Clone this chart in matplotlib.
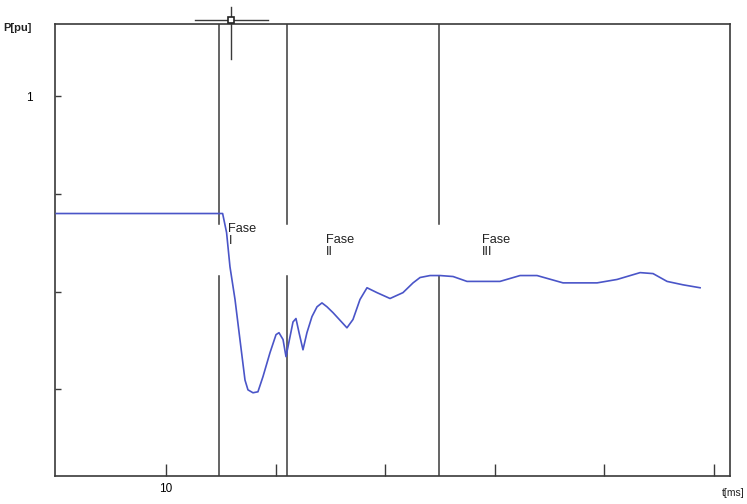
import matplotlib
matplotlib.use("Agg")
import matplotlib.pyplot as plt

# ---- data ----
t_ms = [0.0, 15.17, 15.53, 15.84, 16.30, 16.75, 17.21, 17.48, 17.94, 18.39, 18.85,
        19.49, 20.04, 20.31, 20.68, 20.95, 21.13, 21.59, 21.86, 22.14, 22.50, 22.86,
        23.32, 23.78, 24.23, 24.69, 25.24, 26.51, 27.06, 27.70, 28.34, 29.25, 30.44,
        31.62, 32.54, 33.18, 34.09, 35.00, 36.19, 37.46, 40.47, 42.30, 43.85, 46.22,
        49.33, 51.15, 53.25, 54.43, 55.71, 57.17, 58.72]
p_pu = [0.760, 0.760, 0.721, 0.651, 0.584, 0.502, 0.419, 0.399, 0.393, 0.395, 0.426,
        0.475, 0.512, 0.516, 0.502, 0.467, 0.487, 0.538, 0.545, 0.516, 0.481, 0.516,
        0.549, 0.569, 0.577, 0.569, 0.557, 0.526, 0.543, 0.584, 0.608, 0.598, 0.586,
        0.598, 0.618, 0.629, 0.633, 0.633, 0.631, 0.621, 0.621, 0.633, 0.633, 0.618,
        0.618, 0.625, 0.639, 0.637, 0.621, 0.614, 0.608]
phase_bounds = [14.84, 21.04, 34.91]
phase_labels = ["Fase\nI", "Fase\nII", "Fase\nIII"]
x_ticks = [10, 20, 30, 40, 50, 60]
x_ticklabels = ["10", "", "", "", "", ""]
y_ticks = [0.4, 0.6, 0.8, 1.0]
y_ticklabels = ["", "", "", "1"]

plt.rcParams['font.family'] = ['Liberation Sans', 'DejaVu Sans']

fig = plt.figure(figsize=(7.47, 5.04), dpi=100)
ax = fig.add_axes([55/747, 28/504, (730-55)/747, (476-24)/504])

ax.set_xlim(-0.12, 61.45)
ax.set_ylim(0.2226, 1.148)

axis_col = "#3a3a3a"
for s in ax.spines.values():
    s.set_color(axis_col)
    s.set_linewidth(1.2)

# phase boundary lines, broken where the labels band is
gap_top, gap_bot = 0.7395, 0.633
for xb in phase_bounds:
    ax.plot([xb, xb], [gap_top, 1.148], color=axis_col, lw=1.1, zorder=2)
    ax.plot([xb, xb], [0.2226, gap_bot], color=axis_col, lw=1.1, zorder=2)

ax.plot(t_ms, p_pu, color="#4a55c8", lw=1.2, zorder=3)

label_pos = [(15.7, 0.740), (24.6, 0.719), (38.8, 0.719)]
for (lx, ly), lab in zip(label_pos, phase_labels):
    ax.text(lx, ly, lab, fontsize=9.2, color="#222222", ha="left", va="top",
            linespacing=1.0)

ax.set_xticks(x_ticks)
ax.set_xticklabels(x_ticklabels)
ax.set_yticks(y_ticks)
ax.set_yticklabels(y_ticklabels)
ax.tick_params(axis="x", direction="in", length=9, width=1.0, color=axis_col,
               labelsize=8.5, pad=5)
ax.tick_params(axis="y", direction="in", length=4, width=1.0, color=axis_col,
               labelsize=8.5, pad=16)

# cursor crosshair above the plot
ax.plot([12.65, 19.31], [1.156, 1.156], color=axis_col, lw=1.0, clip_on=False, zorder=4)
ax.plot([15.93, 15.93], [1.076, 1.183], color=axis_col, lw=1.0, clip_on=False, zorder=4)
ax.plot([15.93], [1.156], marker="s", ms=5, mfc="white", mec="#222222", mew=1.2,
        clip_on=False, zorder=5)

fig.text(3/747, 1 - 28/504, "P[pu]", fontsize=8, fontweight="bold",
         color="#222222", ha="left", va="center")
fig.text(745/747, 1 - 493/504, "t[ms]", fontsize=7.5, color="#222222",
         ha="right", va="center")

fig.savefig("out.png", dpi=100)
